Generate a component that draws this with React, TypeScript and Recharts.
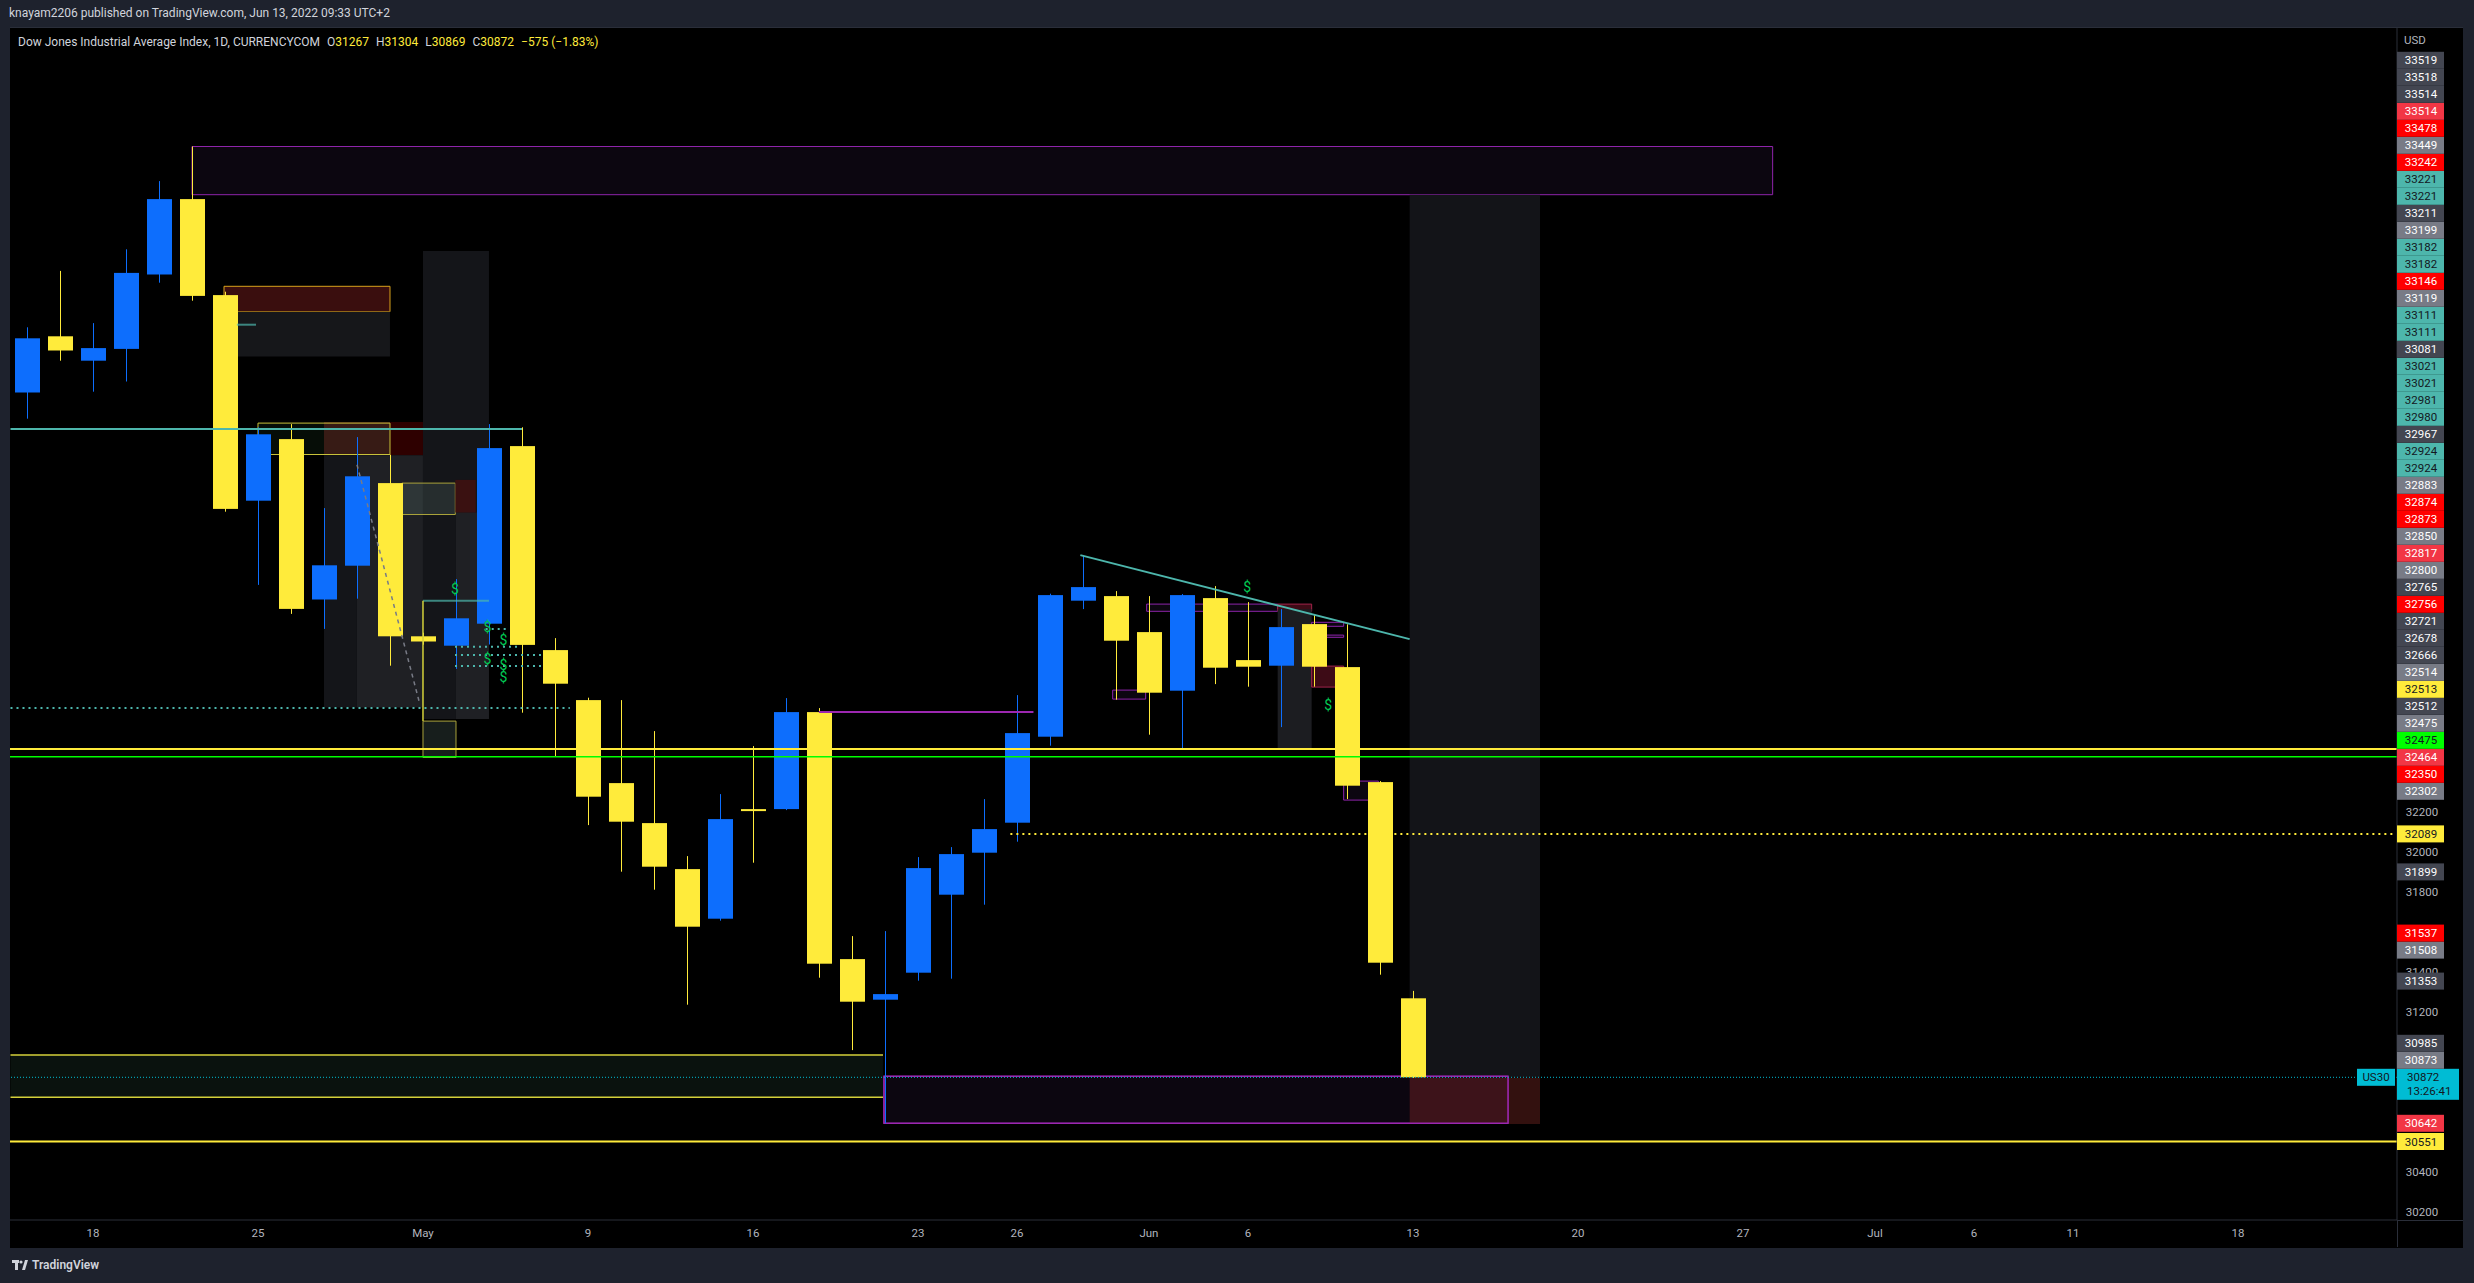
import React from 'react';
import { ComposedChart, Bar, XAxis, YAxis, ReferenceArea, ReferenceLine, ReferenceDot } from 'recharts';

// ---------- data ----------
const DATES = ['Apr 14','Apr 15','Apr 18','Apr 19','Apr 20','Apr 21','Apr 22','Apr 25','Apr 26','Apr 27','Apr 28','Apr 29','May 2','May 3','May 4','May 5','May 6','May 9','May 10','May 11','May 12','May 13','May 16','May 17','May 18','May 19','May 20','May 23','May 24','May 25','May 26','May 27','May 30','May 31','Jun 1','Jun 2','Jun 3','Jun 6','Jun 7','Jun 8','Jun 9','Jun 10','Jun 13'];
const OPEN = [34296,34577,34455,34514,34886,35263,34783,33755,34063,33261,33430,33843,33077,33030,33140,34028,33008,32758,32343,32143,31913,31665,32213,32213,32698,31463,31260,31395,31785,31995,32145,32575,33255,33278,33098,32805,33268,32958,32930,33138,32923,32348,31267];
const HIGH = [34622,34904,34643,35012,35353,35526,34800,34122,34138,33718,34073,33985,33095,33363,34138,34122,33068,32770,32758,32603,31978,32288,32528,32768,32718,31578,31603,31973,32023,32263,32783,33290,33483,33303,33278,33288,33328,33248,33213,33188,33137,32353,31304];
const LOW = [34165,34455,34300,34351,34845,34755,33700,33334,33189,33114,33265,32930,33035,32914,33036,32695,32478,32133,31900,31810,31235,31655,31945,32208,31370,31008,30642,31355,31365,31735,32050,32530,33213,32760,32585,32515,32838,32825,32623,32825,32263,31385,30869];
const CLOSE = [34567,34506,34518,34894,35263,34779,33714,34087,33214,33432,33877,33077,33051,33167,34018,33034,32840,32275,32150,31925,31625,32163,32205,32698,31440,31250,31288,31918,31988,32113,32593,33283,33323,33055,32795,33283,32920,32925,33123,32925,32330,31445,30872];

const X_TICKS = [2, 7, 12, 17, 22, 27, 30, 34, 37, 42, 47, 52, 56, 59, 62, 67];
const X_LABELS = ['18', '25', 'May', '9', '16', '23', '26', 'Jun', '6', '13', '20', '27', 'Jul', '6', '11', '18'];

const PLAIN_TICKS = [32200, 32000, 31800, 31400, 31200, 30400, 30200];
const LABEL_PRICES = [30551,30642,30872,30873,30985,31353,31508,31537,31899,32089,32302,32350,32464,32475,32475,32512,32513,32514,32666,32678,32721,32756,32765,32800,32817,32850,32873,32874,32883,32924,32924,32967,32980,32981,33021,33021,33081,33111,33111,33119,33146,33182,33182,33199,33211,33221,33221,33242,33449,33478,33514,33514,33518,33519];
const LABEL_KINDS = ['yellow','lightred','cyan','midgray','darkgray','darkgray','midgray','red','darkgray','yellow','midgray','red','lightred','green','midgray','darkgray','yellow','midgray','darkgray','darkgray','darkgray','red','darkgray','midgray','lightred','midgray','red','red','midgray','teal','teal','darkgray','teal','teal','teal','teal','darkgray','teal','teal','midgray','red','teal','teal','midgray','darkgray','teal','teal','red','midgray','red','lightred','darkgray','darkgray','darkgray'];

// zones: [x1, x2, priceLow, priceHigh, kind]
const ZONES: [number, number, number, number, string][] = [
  [5, 52.9, 35285, 35526, 'purpleBox'],
  [41.9, 45.85, 30873, 35285, 'grayBand'],
  [44.88, 45.85, 30638, 30871, 'redPlain'],
  [25.97, 44.88, 30642, 30877, 'purpleBox'],
  [41.9, 44.88, 30642, 30871, 'redOverlap'],
  [25.97, 44.88, 30642, 30877, 'purpleOutline'],
  [-0.5, 25.94, 30772, 30983, 'greenFill'],
  [5.97, 11, 34700, 34827, 'redOrange'],
  [6, 11, 34476, 34700, 'grayBox'],
  [9, 11, 33982, 34149, 'redFill'],
  [11, 12, 33982, 34149, 'darkRedFill'],
  [7, 11, 33986, 34143, 'yellowOutline'],
  [9, 10, 32721, 33982, 'grayDark'],
  [10, 12, 32721, 33982, 'grayLight'],
  [12, 14, 32663, 35004, 'grayDark'],
  [13, 14, 32663, 33696, 'grayLight'],
  [11.36, 12.98, 33686, 33843, 'yellowGray'],
  [12.98, 13.6, 33696, 33859, 'redFill'],
  [12, 13, 32471, 32653, 'yellowGray'],
  [33.93, 37.9, 33202, 33238, 'purpleBox'],
  [37.9, 38.93, 33202, 33238, 'redPink'],
  [32.9, 33.9, 32763, 32808, 'purpleBox'],
  [37.9, 38.93, 32513, 33212, 'gray2'],
  [38.93, 39.9, 32823, 32928, 'redPink'],
  [38.93, 39.9, 33127, 33147, 'purpleBox'],
  [38.93, 39.9, 33072, 33083, 'purpleBox'],
  [39.9, 40.95, 32258, 32353, 'purpleBox'],
];

// full-width price lines: [price, kind]
const H_LINES: [number, string][] = [
  [30551, 'yellowSolid'],
  [32513, 'yellowSolid'],
  [32475, 'greenSolid'],
  [30872, 'cyanDotted'],
];

// segments: [x1, p1, x2, p2, kind]
const SEGMENTS: [number, number, number, number, string][] = [
  [-0.5, 30983, 25.94, 30983, 'yellowThin'],
  [-0.5, 30772, 25.94, 30772, 'yellowThin'],
  [29.8, 32089, 71.8, 32089, 'yellowDotted'],
  [-0.5, 34114, 15, 34114, 'teal'],
  [-0.5, 32718, 16.45, 32718, 'tealDotted'],
  [24, 32699, 30.5, 32699, 'purple'],
  [31.92, 33483, 41.9, 33063, 'teal'],
  [12, 33255, 14, 33255, 'tealFaint'],
  [12, 32653, 12, 33255, 'yellowThin'],
  [6.36, 34635, 6.94, 34635, 'tealFaint'],
  [10.0, 33935, 11.9, 32741, 'grayDashed'],
  [13.9, 33114, 14.55, 33114, 'tealDotted'],
  [12.97, 33025, 14.9, 33025, 'tealDotted'],
  [12.97, 32984, 15.58, 32984, 'tealDotted'],
  [12.97, 32929, 15.58, 32929, 'tealDotted'],
];

const MARKERS: [number, number][] = [
  [12.97, 33312], [13.95, 33122], [14.44, 33061], [13.95, 32965], [14.44, 32935], [14.44, 32873], [36.98, 33325], [39.43, 32733],
];

// ---------- layout ----------
const W = 2474, H = 1283;
const PLOT_TOP = 28, PLOT_BOTTOM = 1220;
const Y_MIN = 30158.5, Y_MAX = 36118.5;
const X_MIN = -0.515, X_MAX = 71.82;
const LABEL_H = 17;
const LABEL_GAP = LABEL_H * (Y_MAX - Y_MIN) / (PLOT_BOTTOM - PLOT_TOP);

const BLUE = '#0d6efd';
const YELLOW = '#ffeb3b';

const ZONE_STYLE: Record<string, { fill: string; stroke?: string }> = {
  purpleBox: { fill: '#0c0610', stroke: '#8e24aa' },
  purpleOutline: { fill: 'none', stroke: '#9c27b0' },
  grayBand: { fill: '#131418' },
  redPlain: { fill: '#33110f' },
  redOverlap: { fill: '#3d131a' },
  greenFill: { fill: '#0a120e' },
  redOrange: { fill: '#3a0e0e', stroke: '#d9a21b' },
  grayBox: { fill: '#16171a' },
  redFill: { fill: '#3a1111' },
  darkRedFill: { fill: '#2e0000' },
  yellowOutline: { fill: 'rgba(40,90,50,0.15)', stroke: '#c8c23a' },
  grayDark: { fill: '#141519' },
  grayLight: { fill: '#1f2024' },
  yellowGray: { fill: 'rgba(90,120,110,0.25)', stroke: '#a9a23a' },
  redPink: { fill: '#3d0b16', stroke: '#a0244a' },
  gray2: { fill: '#1c1d21' },
};

const LINE_STYLE: Record<string, { stroke: string; strokeWidth: number; strokeDasharray?: string; strokeOpacity?: number }> = {
  yellowSolid: { stroke: YELLOW, strokeWidth: 2 },
  greenSolid: { stroke: '#00ff00', strokeWidth: 1.5 },
  cyanDotted: { stroke: '#00bcd4', strokeWidth: 1, strokeDasharray: '1 2' },
  yellowDotted: { stroke: YELLOW, strokeWidth: 2, strokeDasharray: '2 4' },
  teal: { stroke: '#4db6ac', strokeWidth: 2 },
  tealDotted: { stroke: '#4db6ac', strokeWidth: 2, strokeDasharray: '2 4' },
  tealFaint: { stroke: '#4db6ac', strokeWidth: 2, strokeOpacity: 0.7 },
  purple: { stroke: '#9c27b0', strokeWidth: 2 },
  yellowThin: { stroke: '#d4d13a', strokeWidth: 1.5 },
  grayDashed: { stroke: '#787b86', strokeWidth: 1.5, strokeDasharray: '4 4' },
};

const LABEL_STYLE: Record<string, { bg: string; fg: string }> = {
  darkgray: { bg: '#434651', fg: '#ffffff' },
  midgray: { bg: '#787b86', fg: '#ffffff' },
  red: { bg: '#ff0000', fg: '#ffffff' },
  lightred: { bg: '#f23645', fg: '#ffffff' },
  teal: { bg: '#4db6ac', fg: '#131722' },
  yellow: { bg: '#ffeb3b', fg: '#131722' },
  green: { bg: '#00ff00', fg: '#131722' },
  cyan: { bg: '#00bcd4', fg: '#131722' },
};

const candles = DATES.map((d, i) => ({
  i, date: d, o: OPEN[i], h: HIGH[i], l: LOW[i], c: CLOSE[i], range: [LOW[i], HIGH[i]],
}));

type TickInfo = { v: number; price: number; kind: string };
const STACKED: TickInfo[] = (() => {
  const out: TickInfo[] = [];
  let prev = -Infinity;
  LABEL_PRICES.forEach((p, k) => {
    const v = Math.max(p, prev + LABEL_GAP);
    out.push({ v, price: p, kind: LABEL_KINDS[k] });
    prev = v;
  });
  return out;
})();
const ALL_TICKS: TickInfo[] = [...PLAIN_TICKS.map((v) => ({ v, price: v, kind: 'plain' })), ...STACKED];

const FONT = 'Roboto, "Noto Sans", sans-serif';

function Candle(props: any) {
  const { x, y, width, height, payload } = props;
  if (x == null || y == null) return null;
  const top = Math.min(y, y + height);
  const bot = Math.max(y, y + height);
  const span = payload.h - payload.l;
  const py = (p: number) => top + ((payload.h - p) / span) * (bot - top);
  const up = payload.c >= payload.o;
  const color = up ? BLUE : YELLOW;
  const cx = Math.round(x + width / 2) + 0.5;
  const bTop = py(Math.max(payload.o, payload.c));
  const bBot = py(Math.min(payload.o, payload.c));
  return (
    <g>
      <line x1={cx} x2={cx} y1={top} y2={bot} stroke={color} strokeWidth={1} />
      <rect x={cx - width / 2} y={bTop} width={width} height={Math.max(bBot - bTop, 2)} fill={color} />
    </g>
  );
}

function PriceTick(props: any) {
  const { x, y, payload } = props;
  const info = ALL_TICKS.find((t) => Math.abs(t.v - payload.value) < 1e-6);
  if (!info) return null;
  if (info.kind === 'plain') {
    return (
      <text x={x + 25} y={y} textAnchor="middle" dominantBaseline="central" fill="#b2b5be" fontSize={11.5} fontFamily={FONT}>
        {info.price}
      </text>
    );
  }
  const st = LABEL_STYLE[info.kind];
  if (info.kind === 'cyan') {
    return (
      <g>
        <rect x={x - 40} y={y - 8.5} width={38} height={17} fill={st.bg} />
        <text x={x - 21} y={y} textAnchor="middle" dominantBaseline="central" fill={st.fg} fontSize={11.5} fontFamily={FONT}>US30</text>
        <rect x={x} y={y - 8.5} width={62} height={31} fill={st.bg} />
        <text x={x + 10} y={y} dominantBaseline="central" fill={st.fg} fontSize={11.5} fontFamily={FONT}>{info.price}</text>
        <text x={x + 10} y={y + 14} dominantBaseline="central" fill={st.fg} fontSize={11.5} fontFamily={FONT}>13:26:41</text>
      </g>
    );
  }
  return (
    <g>
      <rect x={x} y={y - 8.5} width={47} height={17} fill={st.bg} />
      <text x={x + 24} y={y} textAnchor="middle" dominantBaseline="central" fill={st.fg} fontSize={11.5} fontFamily={FONT}>
        {info.price}
      </text>
    </g>
  );
}

function DollarMark(props: any) {
  const { cx, cy } = props;
  return (
    <text x={cx} y={cy} textAnchor="middle" dominantBaseline="central" fill="#00c853" fontSize={14} fontFamily={FONT}>$</text>
  );
}

export default function App() {
  return (
    <div style={{ position: 'absolute', left: 0, top: 0, width: W, height: H, background: '#1e222d', overflow: 'hidden', fontFamily: FONT }}>
      <div style={{ position: 'absolute', left: 9, top: 6, fontSize: 12, color: '#d1d4dc', whiteSpace: 'nowrap' }}>
        knayam2206 published on TradingView.com, Jun 13, 2022 09:33 UTC+2
      </div>
      <div style={{ position: 'absolute', left: 10, top: 27, width: 2453, height: 1220, background: '#000', borderTop: '1px solid #2a2e39' }} />
      <div style={{ position: 'absolute', left: 0, top: 0 }}>
        <ComposedChart width={W} height={H} data={candles} margin={{ top: PLOT_TOP, right: 11, bottom: 36, left: 10 }}>
          <XAxis
            dataKey="i"
            type="number"
            domain={[X_MIN, X_MAX]}
            allowDataOverflow
            ticks={X_TICKS}
            interval={0}
            tickFormatter={(v: number) => X_LABELS[X_TICKS.indexOf(v)] ?? ''}
            tickLine={false}
            tickSize={0}
            tickMargin={9}
            height={27}
            axisLine={{ stroke: '#2a2e39' }}
            tick={{ fill: '#b2b5be', fontSize: 11.5, fontFamily: FONT }}
          />
          <YAxis
            orientation="right"
            type="number"
            domain={[Y_MIN, Y_MAX]}
            allowDataOverflow
            ticks={ALL_TICKS.map((t) => t.v)}
            interval={0}
            tickLine={false}
            tickSize={0}
            tickMargin={0}
            width={66}
            axisLine={{ stroke: '#2a2e39' }}
            tick={<PriceTick />}
          />
          {ZONES.map(([x1, x2, lo, hi, kind], k) => (
            <ReferenceArea
              key={'z' + k}
              x1={x1}
              x2={x2}
              y1={lo}
              y2={hi}
              fill={ZONE_STYLE[kind].fill}
              fillOpacity={1}
              stroke={ZONE_STYLE[kind].stroke ?? 'none'}
              strokeWidth={kind === 'purpleOutline' ? 1.5 : 1}
            />
          ))}
          <Bar dataKey="range" barSize={25} isAnimationActive={false} shape={<Candle />} />
          {H_LINES.map(([p, kind], k) => (
            <ReferenceLine key={'h' + k} y={p} {...LINE_STYLE[kind]} />
          ))}
          {SEGMENTS.map(([x1, p1, x2, p2, kind], k) => (
            <ReferenceLine key={'s' + k} segment={[{ x: x1, y: p1 }, { x: x2, y: p2 }]} {...LINE_STYLE[kind]} />
          ))}
          {MARKERS.map(([xi, p], k) => (
            <ReferenceDot key={'m' + k} x={xi} y={p} r={0} shape={<DollarMark />} />
          ))}
        </ComposedChart>
      </div>
      <div style={{ position: 'absolute', left: 18, top: 35, fontSize: 12, color: '#d1d4dc', whiteSpace: 'nowrap' }}>
        Dow Jones Industrial Average Index, 1D, CURRENCYCOM
        <span style={{ marginLeft: 7 }}>O</span><span style={{ color: YELLOW }}>31267</span>
        <span style={{ marginLeft: 7 }}>H</span><span style={{ color: YELLOW }}>31304</span>
        <span style={{ marginLeft: 7 }}>L</span><span style={{ color: YELLOW }}>30869</span>
        <span style={{ marginLeft: 7 }}>C</span><span style={{ color: YELLOW }}>30872</span>
        <span style={{ marginLeft: 7, color: YELLOW }}>−575 (−1.83%)</span>
      </div>
      <div style={{ position: 'absolute', left: 2404, top: 33, fontSize: 11.5, color: '#b2b5be' }}>USD</div>
      <div style={{ position: 'absolute', left: 2397, top: 1220, width: 66, height: 1, background: '#2a2e39' }} />
      <div style={{ position: 'absolute', left: 2397, top: 1220, width: 1, height: 27, background: '#2a2e39' }} />
      <div style={{ position: 'absolute', left: 12, top: 1258, display: 'flex', alignItems: 'center', gap: 4, color: '#d1d4dc', fontSize: 12, fontWeight: 600 }}>
        <svg width="16" height="10" viewBox="0 0 16 10">
          <rect x="0" y="0" width="7" height="3" fill="#d1d4dc" />
          <rect x="3" y="0" width="3" height="10" fill="#d1d4dc" />
          <circle cx="9" cy="2" r="1.6" fill="#d1d4dc" />
          <polygon points="10,10 13,0 16,0 13,10" fill="#d1d4dc" />
        </svg>
        <span>TradingView</span>
      </div>
    </div>
  );
}
